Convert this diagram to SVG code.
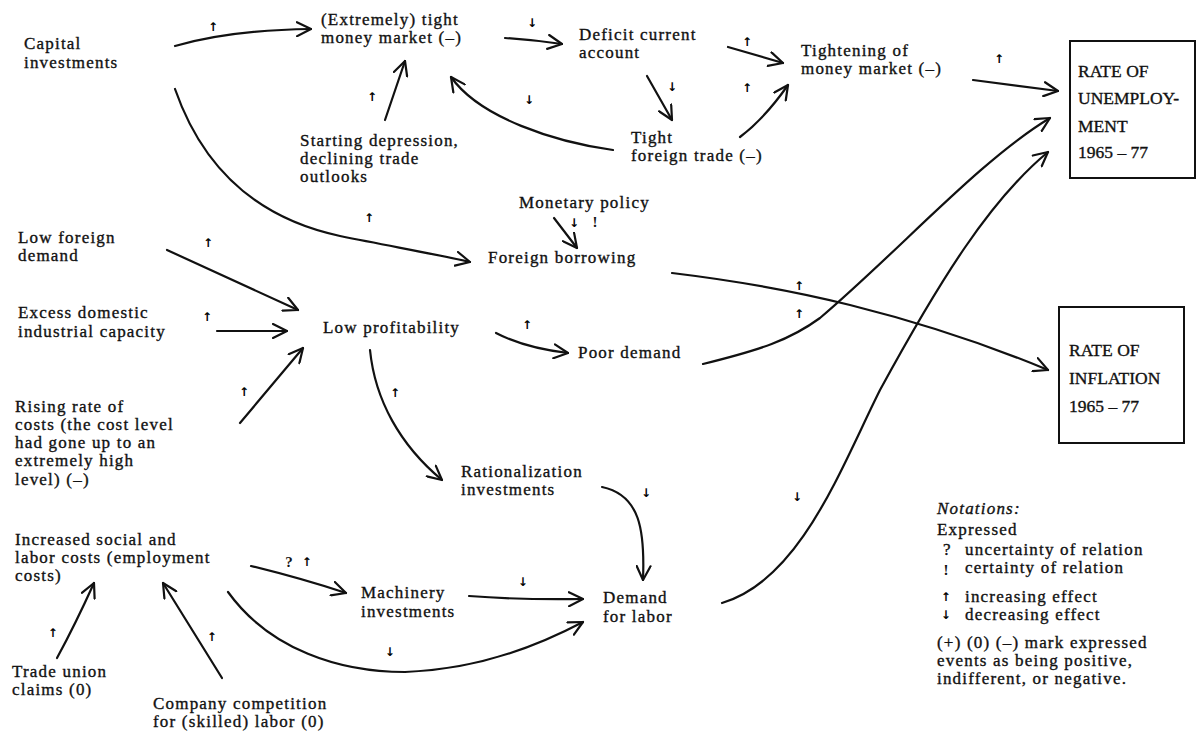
<svg xmlns="http://www.w3.org/2000/svg" width="1197" height="737" viewBox="0 0 1197 737">
<style>
.t{font-family:"Liberation Serif","Times New Roman",serif;font-size:17px;letter-spacing:1.2px;fill:#111;stroke:#111;stroke-width:0.35px}
.b{font-family:"Liberation Serif","Times New Roman",serif;font-size:17.5px;fill:#111;stroke:#111;stroke-width:0.35px}
.m{font-family:"DejaVu Sans",sans-serif;font-size:12px;font-weight:bold;fill:#000;text-anchor:middle}
.q{font-family:"Liberation Serif",serif;font-size:15px;font-weight:bold;fill:#111;text-anchor:middle}
.c{fill:none;stroke:#111;stroke-width:2.2;stroke-linecap:round;marker-end:url(#ah)}
.box{fill:#fff;stroke:#111;stroke-width:2}
</style>
<defs>
<marker id="ah" viewBox="0 0 16 16" refX="15" refY="8" markerWidth="16" markerHeight="16" markerUnits="userSpaceOnUse" orient="auto">
<path d="M1,1 L15,8 L1,15" fill="none" stroke="#111" stroke-width="2.2" stroke-linecap="round" stroke-linejoin="round"/>
</marker>
</defs>
<rect width="1197" height="737" fill="#fff"/>

<g id="connectors">
<path class="c" d="M175,46 Q230,30 311,29"/>
<path class="c" d="M385,120 L405,61"/>
<path class="c" d="M505,38 Q535,40 562,44"/>
<path class="c" d="M728,47 L783,63"/>
<path class="c" d="M647,76 L672,120"/>
<path class="c" d="M740,137 Q765,118 788,85"/>
<path class="c" d="M613,150 C555,142 480,118 451,77"/>
<path class="c" d="M973,80 L1058,91"/>
<path class="c" d="M175,89 C205,175 265,220 340,236 C400,248 440,255 470,262"/>
<path class="c" d="M554,218 L577,248"/>
<path class="c" d="M167,250 L298,310"/>
<path class="c" d="M217,331 L287,331"/>
<path class="c" d="M240,423 L303,348"/>
<path class="c" d="M370,350 C375,400 400,445 442,480"/>
<path class="c" d="M496,333 Q525,348 568,353"/>
<path class="c" d="M672,273 C730,280 790,290 850,305 C930,325 1000,350 1048,370"/>
<path class="c" d="M703,364 C760,350 790,340 820,318 C900,250 980,160 1050,118"/>
<path class="c" d="M722,603 C800,580 840,470 880,390 C940,280 990,200 1048,152"/>
<path class="c" d="M602,487 C640,495 645,530 643,580"/>
<path class="c" d="M469,596 Q520,600 583,599"/>
<path class="c" d="M251,566 Q300,578 346,593"/>
<path class="c" d="M228,592 C270,650 340,672 405,672 C470,670 530,650 583,622"/>
<path class="c" d="M57,658 Q75,625 94,583"/>
<path class="c" d="M222,678 L163,583"/>
</g>

<g id="marks" opacity="0.99" transform="rotate(0.01)">
<text class="m" x="213" y="31">↑</text>
<text class="m" x="372" y="101">↑</text>
<text class="m" x="532" y="27">↓</text>
<text class="m" x="747" y="46">↑</text>
<text class="m" x="672" y="91">↓</text>
<text class="m" x="747" y="92">↑</text>
<text class="m" x="529" y="104">↓</text>
<text class="m" x="999" y="63">↑</text>
<text class="m" x="369" y="222">↑</text>
<text class="m" x="574" y="227">↓</text>
<text class="q" x="595" y="227">!</text>
<text class="m" x="208" y="247">↑</text>
<text class="m" x="207" y="321">↑</text>
<text class="m" x="244" y="396">↑</text>
<text class="m" x="395" y="397">↑</text>
<text class="m" x="527" y="329">↑</text>
<text class="m" x="799" y="290">↑</text>
<text class="m" x="799" y="318">↑</text>
<text class="m" x="646" y="497">↓</text>
<text class="m" x="797" y="501">↓</text>
<text class="m" x="523" y="586">↓</text>
<text class="q" x="289" y="567">?</text>
<text class="m" x="307" y="566">↑</text>
<text class="m" x="390" y="656">↓</text>
<text class="m" x="53" y="637">↑</text>
<text class="m" x="212" y="641">↑</text>
<text class="m" x="946" y="601">↑</text>
<text class="m" x="946" y="619">↓</text>
</g>

<g id="capital"><text class="t" x="24" y="49">Capital</text><text class="t" x="24" y="68">investments</text></g>
<g id="tight-money"><text class="t" x="321" y="25">(Extremely) tight</text><text class="t" x="321" y="43">money market (–)</text></g>
<g id="deficit"><text class="t" x="579" y="40">Deficit current</text><text class="t" x="579" y="58">account</text></g>
<g id="tightening"><text class="t" x="801" y="56">Tightening of</text><text class="t" x="801" y="74">money market (–)</text></g>
<g id="unemployment">
<rect class="box" x="1070" y="41" width="125" height="137"/>
<text class="b" x="1078" y="77">RATE OF</text><text class="b" x="1078" y="104">UNEMPLOY-</text><text class="b" x="1078" y="132">MENT</text><text class="b" x="1078" y="158">1965 – 77</text>
</g>
<g id="starting-depression"><text class="t" x="300" y="146">Starting depression,</text><text class="t" x="300" y="164">declining trade</text><text class="t" x="300" y="182">outlooks</text></g>
<g id="tight-foreign-trade"><text class="t" x="631" y="143">Tight</text><text class="t" x="631" y="161">foreign trade (–)</text></g>
<g id="monetary-policy"><text class="t" x="519" y="208">Monetary policy</text></g>
<g id="foreign-borrowing"><text class="t" x="488" y="263">Foreign borrowing</text></g>
<g id="low-foreign-demand"><text class="t" x="18" y="243">Low foreign</text><text class="t" x="18" y="261">demand</text></g>
<g id="excess-capacity"><text class="t" x="18" y="318">Excess domestic</text><text class="t" x="18" y="337">industrial capacity</text></g>
<g id="low-profitability"><text class="t" x="323" y="333">Low profitability</text></g>
<g id="poor-demand"><text class="t" x="578" y="358">Poor demand</text></g>
<g id="rising-costs"><text class="t" x="15" y="412">Rising rate of</text><text class="t" x="15" y="430">costs (the cost level</text><text class="t" x="15" y="448">had gone up to an</text><text class="t" x="15" y="466">extremely high</text><text class="t" x="15" y="485">level) (–)</text></g>
<g id="inflation">
<rect class="box" x="1059" y="307" width="125" height="136"/>
<text class="b" x="1069" y="356">RATE OF</text><text class="b" x="1069" y="384">INFLATION</text><text class="b" x="1069" y="412">1965 – 77</text>
</g>
<g id="rationalization"><text class="t" x="461" y="477">Rationalization</text><text class="t" x="461" y="495">investments</text></g>
<g id="social-costs"><text class="t" x="15" y="545">Increased social and</text><text class="t" x="15" y="563">labor costs (employment</text><text class="t" x="15" y="581">costs)</text></g>
<g id="machinery"><text class="t" x="361" y="598">Machinery</text><text class="t" x="361" y="617">investments</text></g>
<g id="demand-for-labor"><text class="t" x="603" y="603">Demand</text><text class="t" x="603" y="622">for labor</text></g>
<g id="trade-union"><text class="t" x="12" y="677">Trade union</text><text class="t" x="12" y="695">claims (0)</text></g>
<g id="company-competition"><text class="t" x="153" y="709">Company competition</text><text class="t" x="153" y="727">for (skilled) labor (0)</text></g>

<g id="notations">
<text class="t" x="937" y="514" font-style="italic">Notations:</text>
<text class="t" x="937" y="535">Expressed</text>
<text class="t" x="943" y="555">?</text><text class="t" x="965" y="555">uncertainty of relation</text>
<text class="q" x="946" y="575">!</text><text class="t" x="965" y="573">certainty of relation</text>
<text class="t" x="965" y="602">increasing effect</text>
<text class="t" x="965" y="620">decreasing effect</text>
<text class="t" x="937" y="648">(+) (0) (–) mark expressed</text>
<text class="t" x="937" y="666">events as being positive,</text>
<text class="t" x="937" y="684">indifferent, or negative.</text>
</g>
</svg>
